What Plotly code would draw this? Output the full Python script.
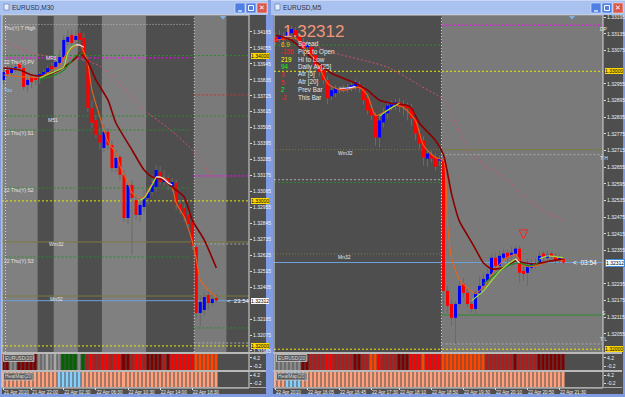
import plotly.graph_objects as go

W, H = 625, 397

# ======================= DATA =======================
# ---- Left window: EURUSD,M30 (bar index 0..53) ----
L_open = [1.33834,1.33903,1.33882,1.33916,1.33951,1.33916,1.33800,1.33855,1.33848,1.33848,
          1.33868,1.33889,1.33930,1.33923,1.33951,1.33992,1.34096,1.34144,1.34110,1.34158,
          1.34124,1.33972,1.33641,1.33558,1.33455,1.33365,1.33476,1.33386,1.33227,1.33303,
          1.33179,1.32882,1.33110,1.33006,1.32903,1.32958,1.33020,1.33062,1.33096,1.33199,
          1.33130,1.33158,1.33096,1.33124,1.32979,1.32951,1.32903,1.32855,1.32682,1.32227,
          1.32248,1.32351,1.32296,1.32331]
L_high = [1.33916,1.33930,1.33937,1.33944,1.33972,1.33930,1.33848,1.33875,1.33875,1.33889,
          1.33903,1.33937,1.33958,1.33985,1.34041,1.34144,1.34179,1.34179,1.34179,1.34193,
          1.34158,1.33999,1.33696,1.33593,1.33503,1.33524,1.33503,1.33420,1.33351,1.33317,
          1.33213,1.33130,1.33144,1.33041,1.33020,1.33075,1.33089,1.33179,1.33248,1.33241,
          1.33213,1.33179,1.33158,1.33144,1.33006,1.32979,1.32937,1.32882,1.32696,1.32351,
          1.32372,1.32385,1.32365,1.32358]
L_low = [1.33806,1.33855,1.33868,1.33889,1.33903,1.33765,1.33751,1.33779,1.33800,1.33806,
         1.33841,1.33875,1.33896,1.33910,1.33937,1.33978,1.34075,1.34068,1.34082,1.34082,
         1.33958,1.33613,1.33503,1.33434,1.33351,1.33338,1.33351,1.33199,1.33199,1.33144,
         1.32855,1.32834,1.32627,1.32868,1.32855,1.32924,1.32972,1.33041,1.33062,1.33110,
         1.33103,1.33075,1.33062,1.32937,1.32910,1.32855,1.32813,1.32661,1.32193,1.32131,
         1.32206,1.32248,1.32275,1.32296]
L_close = [1.33889,1.33875,1.33910,1.33923,1.33916,1.33786,1.33834,1.33820,1.33834,1.33875,
           1.33889,1.33916,1.33910,1.33958,1.33992,1.34110,1.34131,1.34089,1.34137,1.34110,
           1.33985,1.33641,1.33537,1.33455,1.33400,1.33476,1.33386,1.33227,1.33296,1.33179,
           1.32882,1.33110,1.33020,1.32903,1.32972,1.33027,1.33062,1.33124,1.33213,1.33130,
           1.33158,1.33117,1.33130,1.32972,1.32937,1.32889,1.32841,1.32689,1.32227,1.32303,
           1.32337,1.32296,1.32324,1.32312]

L_ema_slow_x = [0,4,7,10,14,18,19,21,23,26,28,32,35,37,40,42,45,47,50,53]
L_ema_slow_y = [1.33916,1.33903,1.33868,1.33862,1.33903,1.33985,1.34020,1.33958,1.33834,1.33696,
                1.33537,1.33351,1.33213,1.33165,1.33144,1.33096,1.33027,1.32868,1.32730,1.32537]
L_ema_fast_x = [0,5,9,14,16,19,20,21,22,24,26,28,29,31,32,34,35,38,40,42,43,45,46,47,48,49,51,53]
L_ema_fast_y = [1.33868,1.33855,1.33855,1.33937,1.34030,1.34075,1.34027,1.33951,1.33765,1.33579,
                1.33410,1.33330,1.33240,1.33124,1.33055,1.33020,1.33027,1.33160,1.33158,1.33090,
                1.32985,1.32889,1.32810,1.32720,1.32600,1.32454,1.32385,1.32337]
L_sma_x = [0,7,14,20,24,28,35,41,47,52]
L_sma_y = [1.34096,1.34020,1.33985,1.33972,1.33930,1.33834,1.33627,1.33503,1.33351,1.33165]
L_sig_lime_x = [9,13,15,16,17,18,None,34,35,36,37,38]
L_sig_lime_y = [1.33848,1.33895,1.33923,1.34020,1.34061,1.34075,None,1.33005,1.33020,1.33060,1.33110,1.33165]
L_sig_white_x = [18,19,20,None,38,39,40,41,42]
L_sig_white_y = [1.34075,1.34075,1.34060,None,1.33165,1.33165,1.33150,1.33124,1.33110]
L_sig_dark_x = [9,13,15,18,20]
L_sig_dark_y = [1.33834,1.33870,1.33900,1.34000,1.34020]

L_levels = [1.34217,1.34003,1.33986,1.33731,1.33586,1.33489,1.33172,1.33089,1.33000,
            1.32717,1.32703,1.32613,1.32344,1.32312,1.32124,1.32020,1.32000]
L_level_kind = ["grey_dot","green_dash","magenta_dash","red_dash","green_dash","green_dash",
                "magenta_dash","green_dash","yellow_dash","olive","grey_dash","green_dash",
                "olive","bid","green_dash","grey_dash","yellow_dash"]
L_level_span = ["pre","full","pre","post","full","pre","post","pre","full",
                "full","post","pre","full","full","post","post","full"]
L_level_text = ["Thu(Y) T High","MR1","22 Thu(Y) PV","Tou","M51","22 Thu(Y) S1","22 Thu(Y) S2",
                "Wm32","22 Thu(Y) S3","Mn32"]
L_level_text_at = [(-0.3,1.34193),(10,1.33985),(-0.3,1.33958),(-0.3,1.33765),(10.5,1.33558),
                   (-0.3,1.33469),(-0.3,1.33075),(10.8,1.32703),(-0.3,1.32586),(11,1.32324)]

L_ticks = [1.34165,1.34055,1.33945,1.33835,1.33725,1.33615,1.33505,1.33395,1.33285,1.33175,
           1.33065,1.32955,1.32845,1.32735,1.32625,1.32515,1.32405,1.32185,1.32075,1.31965]
L_round_marks = [1.34000,1.33000,1.32000]
L_date_idx = [0,7,15,23,31,39,47]
L_date_txt = ["21 Apr 2010","21 Apr 22:00","22 Apr 02:30","22 Apr 06:30",
              "22 Apr 10:30","22 Apr 14:00","22 Apr 18:30"]
L_panel1 = [0,0,1,1,0,0,0,0,0, 1,1,6,1,6,1, 2,2,2,2, 1, 2, 3,4,3,3,
            4,4,3,4,4,0,0,3,4,4,3,0, 0,0,0,3,0,4, 4,4,4,4,4, 5,5,5,5,5,5]
L_panel2 = [7]*14 + [8]*6 + [7]*34

# ---- Right window: EURUSD,M5 (bar index 0..72) ----
R_open = [1.33123,1.33112,1.33126,1.33123,1.33137,1.33148,1.33126,1.33105,1.33087,1.33087,
          1.33058,1.33026,1.33004,1.32968,1.32910,1.32921,1.32935,1.32939,1.32935,1.32939,
          1.32946,1.32953,1.32939,1.32903,1.32867,1.32841,1.32762,1.32816,1.32849,1.32870,
          1.32874,1.32888,1.32881,1.32877,1.32867,1.32834,1.32776,1.32751,1.32686,1.32700,
          1.32690,1.32679,1.32679,1.32210,1.32163,1.32113,1.32163,1.32235,1.32203,1.32163,
          1.32145,1.32203,1.32228,1.32246,1.32271,1.32329,1.32300,1.32329,1.32347,1.32336,
          1.32344,1.32362,1.32282,1.32275,1.32293,1.32311,1.32311,1.32344,1.32329,1.32344,
          1.32333,1.32318,1.32325]
R_high = [1.33137,1.33148,1.33141,1.33155,1.33163,1.33159,1.33137,1.33119,1.33112,1.33097,
          1.33069,1.33040,1.33018,1.32982,1.32946,1.32950,1.32946,1.32950,1.32953,1.32961,
          1.32971,1.32964,1.32950,1.32917,1.32881,1.32852,1.32838,1.32867,1.32888,1.32896,
          1.32899,1.32903,1.32896,1.32888,1.32881,1.32849,1.32794,1.32766,1.32715,1.32715,
          1.32704,1.32697,1.32690,1.32228,1.32181,1.32174,1.32246,1.32257,1.32217,1.32181,
          1.32210,1.32261,1.32275,1.32289,1.32344,1.32347,1.32354,1.32362,1.32358,1.32369,
          1.32372,1.32369,1.32311,1.32325,1.32325,1.32325,1.32354,1.32354,1.32354,1.32351,
          1.32344,1.32340,1.32333]
R_low = [1.33094,1.33105,1.33101,1.33112,1.33130,1.33112,1.33094,1.33069,1.33076,1.33040,
         1.33004,1.32982,1.32953,1.32881,1.32896,1.32906,1.32921,1.32924,1.32924,1.32928,
         1.32932,1.32924,1.32881,1.32845,1.32823,1.32733,1.32726,1.32798,1.32831,1.32859,
         1.32859,1.32852,1.32841,1.32823,1.32805,1.32751,1.32722,1.32661,1.32657,1.32672,
         1.32643,1.32661,1.32131,1.32131,1.32084,1.32019,1.32152,1.32188,1.32152,1.32131,
         1.32127,1.32188,1.32210,1.32224,1.32257,1.32289,1.32289,1.32318,1.32311,1.32325,
         1.32333,1.32239,1.32246,1.32228,1.32282,1.32289,1.32300,1.32318,1.32318,1.32325,
         1.32307,1.32311,1.32307]
R_close = [1.33105,1.33130,1.33112,1.33141,1.33152,1.33126,1.33105,1.33082,1.33097,1.33058,
           1.33022,1.32997,1.32968,1.32903,1.32932,1.32939,1.32932,1.32932,1.32942,1.32950,
           1.32961,1.32939,1.32896,1.32859,1.32841,1.32762,1.32823,1.32849,1.32877,1.32881,
           1.32888,1.32874,1.32874,1.32867,1.32831,1.32776,1.32740,1.32690,1.32704,1.32686,
           1.32657,1.32686,1.32210,1.32156,1.32113,1.32163,1.32228,1.32203,1.32163,1.32145,
           1.32203,1.32228,1.32253,1.32271,1.32329,1.32300,1.32336,1.32344,1.32329,1.32347,
           1.32362,1.32275,1.32271,1.32300,1.32307,1.32300,1.32336,1.32333,1.32340,1.32333,
           1.32318,1.32329,1.32312]

R_ema_slow_x = [0,4,9,14,20,23,26,29,33,34,36,40,42,44,46,48,50,52,54,57,60,62,65,69,72]
R_ema_slow_y = [1.33130,1.33112,1.33048,1.32993,1.32957,1.32932,1.32896,1.32885,1.32877,1.32867,
                1.32813,1.32751,1.32700,1.32560,1.32460,1.32410,1.32360,1.32310,1.32289,1.32293,
                1.32318,1.32311,1.32307,1.32318,1.32325]
R_ema_fast_x = [0,5,7,10,13,15,17,21,23,25,28,30,32,35,37,40,42,43,44,46,48,50,53,55,58,60,62,65,69,72]
R_ema_fast_y = [1.33112,1.33119,1.33087,1.33040,1.32957,1.32939,1.32932,1.32942,1.32914,1.32841,
                1.32859,1.32877,1.32870,1.32823,1.32733,1.32690,1.32679,1.32450,1.32330,1.32250,
                1.32220,1.32200,1.32240,1.32290,1.32330,1.32340,1.32300,1.32300,1.32320,1.32318]
R_sma_x = [7,15,28,36,42,49,58,66,72]
R_sma_y = [1.33105,1.33065,1.33015,1.32950,1.32896,1.32704,1.32607,1.32506,1.32463]
R_sig_lime_x = [26,28,31,None,49,52,54,56,58,60,None,66,68,70,72]
R_sig_lime_y = [1.32838,1.32860,1.32885,None,1.32174,1.32210,1.32246,1.32280,1.32305,1.32325,
                None,1.32325,1.32336,1.32333,1.32329]
R_sig_white_x = [16,18,20,None,60,61]
R_sig_white_y = [1.32939,1.32940,1.32945,None,1.32325,1.32311]
R_sig_dark_x = [52,55,58,61,63,65,66]
R_sig_dark_y = [1.32235,1.32270,1.32300,1.32311,1.32300,1.32305,1.32320]
R_signal_x = [62]
R_signal_y = [1.32397]

R_levels = [1.33166,1.33094,1.33000,1.32718,1.32718,1.32700,1.32610,1.32600,1.32343,1.32312,
            1.32123,1.32019,1.32000]
R_level_kind = ["magenta_dash","green_dash","yellow_dash","olive","olive_dot","grey_dash",
                "grey_dash","green_dash","olive_dot","bid","green","grey_dash","yellow_dash"]
R_level_span = ["post","pre","full","post","pre","post","pre","pre","full","full","post","post","full"]
R_level_text = ["DP","Wm32","T H","Mn32","S","T L"]
R_level_text_at = [(80.6,1.33153),(15,1.32705),(80.6,1.32688),(15.2,1.32333),(81.0,1.32132),(80.6,1.32037)]

R_ticks = [1.33195,1.33135,1.33075,1.32955,1.32895,1.32835,1.32775,1.32715,1.32655,
           1.32595,1.32535,1.32475,1.32415,1.32355,1.32235,1.32175,1.32115,1.32055]
R_round_marks = [1.33000,1.32000]
R_date_idx = [0,8,16,24,31,39,47,55,63,71]
R_date_txt = ["22 Apr 2010","22 Apr 16:05","22 Apr 16:45","22 Apr 17:30","22 Apr 18:10",
              "22 Apr 18:50","22 Apr 19:30","22 Apr 20:10","22 Apr 20:50","22 Apr 21:30"]
R_panel1 = [1]*7 + [0]*2 + [3]*4 + [4]*2 + [3]*5 + [0]*2 + [3]*2 + [5]*2 + [4] + [3]*4 + \
           [0]*3 + [4]*2 + [4,5,4,4,4,4] + [5]*11 + [3]*7 + [0] + [3]*5 + [0]*7
R_panel2 = [7]*3 + [8]*4 + [7]*66

BID = 1.32312
INFO_VAL = ["6.9","-156","219","94","3","5","2","-2"]
INFO_LBL = ["Spread","Pips to Open","Hi to Low","Daily Av[25]","Atr [5]","Atr [20]","Prev Bar","This Bar"]

# ======================= STYLE =======================
FONT = "Liberation Sans, Arial, sans-serif"
BULL, BEAR, WICK = "#0000ff", "#ff0000", "#6a6a6a"
WIN_BG, LIGHT, LIGHT2 = "#4e4e4e", "#808080", "#7a7a7a"
PALETTE = ["#7f0000","#8a8a8a","#006400","#b01c1c","#ff0000","#ff4500","#a8a8a8","#ffa07a","#87cefa"]
LSTYLE = {
    "grey_dot": ("#b8b8b8", "1px,2px", 1), "green_dash": ("#2e8b2e", "2px,2px", 1),
    "magenta_dash": ("#ff00ff", "2px,2px", 1), "red_dash": ("#c83232", "2px,2px", 1),
    "yellow_dash": ("#e8e800", "2px,2px", 1), "olive": ("#7c7a40", "solid", 1),
    "olive_dot": ("#7c7a40", "1px,2px", 1), "grey_dash": ("#a8a8a8", "2px,2px", 1),
    "bid": ("#6fa0d8", "solid", 1), "green": ("#2e8b2e", "solid", 1),
}
INFO_COL = ["#ffc000","#ff2020","#ffff00","#00ff00","#ff2020","#ff2020","#00ff00","#ff2020"]

# pixel geometry
LX = (2, 249); RX = (274, 603)
MAIN_Y = (16, 352); P1_Y = (354, 370); P2_Y = (372, 387)
L_RANGE = [-0.375, 61.125]; R_RANGE = [-0.375, 81.875]
L_YR = [1.31958, 1.34275]; R_YR = [1.31990, 1.33199]

def fx(p): return p / W
def fy(p): return 1 - p / H
def dom_x(a): return [fx(a[0]), fx(a[1])]
def dom_y(a): return [fy(a[1]), fy(a[0])]

fig = go.Figure()
shapes, annos = [], []

def rect(x0, y0, x1, y1, fill, line=None, lw=0, layer="below"):
    shapes.append(dict(type="rect", xref="paper", yref="paper", x0=fx(x0), x1=fx(x1), y0=fy(y1), y1=fy(y0),
                       fillcolor=fill, line=dict(color=line or fill, width=lw), layer=layer))

def hline(x0, x1, y, col, w=1, layer="below"):
    shapes.append(dict(type="line", xref="paper", yref="paper", x0=fx(x0), x1=fx(x1), y0=fy(y), y1=fy(y),
                       line=dict(color=col, width=w), layer=layer))

def text(x, y, s, col="#f0f0f0", size=6, anchor="left", bg=None, border=None, xref="paper", yref="paper"):
    annos.append(dict(x=x if xref != "paper" else fx(x), y=y if yref != "paper" else fy(y), xref=xref, yref=yref,
                      text=s, showarrow=False, xanchor=anchor, yanchor="middle",
                      font=dict(color=col, size=size, family=FONT), bgcolor=bg, bordercolor=border,
                      borderwidth=1 if border else 0, borderpad=0))

# ---- window chrome ----
for (x0, x1, title, bx) in [(0, 268, "EURUSD,M30", 235), (271, 625, "EURUSD,M5", 591)]:
    rect(x0 + 2, 15, x1 - 2, 394, WIN_BG)
    rect(x0, 0, x1, 15, "#aac2ef")
    hline(x0, x1, 0.5, "#c9d8f7")
    rect(x0 + 4, 4, x0 + 9, 10, "#e8eefc", "#5070b0", 0.6)
    text(x0 + 12, 7.5, title, "#27324f", 6.5)
    rect(bx, 3, bx + 10, 13, "#4f7fe3", "#dfe8fb", 0.6)
    hline(bx + 3, bx + 7, 11, "#ffffff", 1.2)
    rect(bx + 11, 3, bx + 21, 13, "#4f7fe3", "#dfe8fb", 0.6)
    rect(bx + 13.5, 5.5, bx + 18.5, 10.5, "rgba(0,0,0,0)", "#ffffff", 1)
    rect(bx + 22, 3, bx + 32, 13, "#d9574b", "#f6dcd8", 0.6)
    text(bx + 27, 8, "✕", "#ffffff", 7, "center")

# chart frames and panel separators
for (a, b, wr) in [(LX[0], LX[1], 266), (RX[0], RX[1], 622)]:
    rect(a, 15, b, 388, "rgba(0,0,0,0)", "#d6d6d6", 1, layer="above")
    rect(a - 1, 352, wr, 354, "#b9b9b9", layer="above")
    rect(a - 1, 370, wr, 372, "#b9b9b9", layer="above")
    hline(a - 1, wr, 387.5, "#a8a8a8", 1, layer="above")

# session shading
for (s, e, c) in [(-0.375, 8.5, LIGHT), (12.5, 18.5, LIGHT), (24.5, 35.5, LIGHT), (47.5, 55.5, LIGHT2)]:
    shapes.append(dict(type="rect", xref="x", yref="y domain", x0=s, x1=e, y0=0, y1=1,
                       fillcolor=c, line=dict(width=0), layer="below"))
shapes.append(dict(type="rect", xref="x4", yref="y4 domain", x0=41.5, x1=R_RANGE[1], y0=0, y1=1,
                   fillcolor=LIGHT2, line=dict(width=0), layer="below"))
for (xr, xv) in [("x", 0.5), ("x", 47.5), ("x4", 41.5)]:
    yr = "y domain" if xr == "x" else "y4 domain"
    shapes.append(dict(type="line", xref=xr, yref=yr, x0=xv, x1=xv, y0=0, y1=1,
                       line=dict(color="#d0d0d0", width=1, dash="1px,2px"), layer="below"))

# level lines
def add_levels(levels, kinds, spans, xr, yr, span_map):
    for p, k, s in zip(levels, kinds, spans):
        col, dash, w = LSTYLE[k]
        x0, x1 = span_map[s]
        shapes.append(dict(type="line", xref=xr, yref=yr, x0=x0, x1=x1, y0=p, y1=p,
                           line=dict(color=col, width=w, dash=dash), layer="below"))

add_levels(L_levels, L_level_kind, L_level_span, "x", "y",
           {"full": L_RANGE, "pre": (0.5, 46.5), "post": (47.5, L_RANGE[1])})
add_levels(R_levels, R_level_kind, R_level_span, "x4", "y4",
           {"full": R_RANGE, "pre": (R_RANGE[0], 41.5), "post": (41.5, R_RANGE[1])})

for s, (xi, p) in zip(L_level_text, L_level_text_at):
    col = "#8fd3ff" if s == "Tou" else "#e6e6e6"
    annos.append(dict(x=xi, y=p, xref="x", yref="y", text=s, showarrow=False, xanchor="left",
                      yanchor="middle", font=dict(color=col, size=5, family=FONT)))
for s, (xi, p) in zip(R_level_text, R_level_text_at):
    annos.append(dict(x=xi, y=p, xref="x4", yref="y4", text=s, showarrow=False, xanchor="left",
                      yanchor="middle", font=dict(color="#e6e6e6", size=5, family=FONT)))

# ---- candles ----
def add_candles(o, h, l, c, xa, ya):
    wx, wy = [], []
    for i in range(len(o)):
        wx += [i, i, None]; wy += [l[i], h[i], None]
    fig.add_trace(go.Scatter(x=wx, y=wy, mode="lines", line=dict(color=WICK, width=1),
                             xaxis=xa, yaxis=ya, hoverinfo="skip", showlegend=False))
    for bull, col in ((True, BULL), (False, BEAR)):
        bx, by = [], []
        for i in range(len(o)):
            if (c[i] > o[i]) == bull:
                bx += [i, i, None]; by += [o[i], c[i], None]
        fig.add_trace(go.Scatter(x=bx, y=by, mode="lines", line=dict(color=col, width=3),
                                 xaxis=xa, yaxis=ya, hoverinfo="skip", showlegend=False))

def add_line(x, y, xa, ya, col, w=1.4, dash="solid"):
    fig.add_trace(go.Scatter(x=x, y=y, mode="lines", line=dict(color=col, width=w, dash=dash, shape="spline", smoothing=0.6),
                             xaxis=xa, yaxis=ya, hoverinfo="skip", showlegend=False, connectgaps=False))

add_line(L_sma_x, L_sma_y, "x", "y", "#d2506e", 1, "2px,2px")
add_line(R_sma_x, R_sma_y, "x4", "y4", "#d2506e", 1, "2px,2px")
add_candles(L_open, L_high, L_low, L_close, "x", "y")
add_candles(R_open, R_high, R_low, R_close, "x4", "y4")
for xa, ya, sx, sy, fxs, fys, dx_, dy_, lx, ly, wx_, wy_ in [
        ("x", "y", L_ema_slow_x, L_ema_slow_y, L_ema_fast_x, L_ema_fast_y, L_sig_dark_x, L_sig_dark_y,
         L_sig_lime_x, L_sig_lime_y, L_sig_white_x, L_sig_white_y),
        ("x4", "y4", R_ema_slow_x, R_ema_slow_y, R_ema_fast_x, R_ema_fast_y, R_sig_dark_x, R_sig_dark_y,
         R_sig_lime_x, R_sig_lime_y, R_sig_white_x, R_sig_white_y)]:
    add_line(fxs, fys, xa, ya, "#e8641e", 1.1)
    add_line(sx, sy, xa, ya, "#8b0000", 1.6)
    add_line(dx_, dy_, xa, ya, "#1f8a1f", 1.2)
    add_line(lx, ly, xa, ya, "#9be03c", 1.2)
    add_line(wx_, wy_, xa, ya, "#f4f4f4", 1.2)

fig.add_trace(go.Scatter(x=R_signal_x, y=R_signal_y, mode="markers", xaxis="x4", yaxis="y4",
                         marker=dict(symbol="arrow-down-open", size=9, color="#ff2020", line=dict(color="#ff2020", width=1)),
                         hoverinfo="skip", showlegend=False))

# ---- indicator panels ----
n_pal = len(PALETTE)
cscale = [[k / (n_pal - 1), c] for k, c in enumerate(PALETTE)]
for codes, xa, ya in [(L_panel1, "x2", "y2"), (L_panel2, "x3", "y3"), (R_panel1, "x5", "y5"), (R_panel2, "x6", "y6")]:
    fig.add_trace(go.Heatmap(z=[codes], x=list(range(len(codes))), y=[-2.2, 6.2], xaxis=xa, yaxis=ya,
                             colorscale=cscale, zmin=0, zmax=n_pal - 1, showscale=False, xgap=1,
                             hoverinfo="skip"))

for (x0, nm, y0) in [(3, "EURUSD(20)", 358), (3, "HeatMap(20)", 376.5), (276, "EURUSD(20)", 358), (276, "HeatMap(20)", 376.5)]:
    rect(x0 + 0.5, y0 - 3.5, x0 + 31, y0 + 3.5, "#5a5a5a", "#c8c8c8", 0.8, layer="above")
    text(x0 + 2, y0, nm, "#dcdcdc", 4.8)

# ---- price scale highlights ----
for p in L_round_marks:
    text(251, 0, f"{p:.5f}", "#000000", 5, bg="#ffd800", xref="paper", yref="y")
    annos[-1]["y"] = p
for p in R_round_marks:
    text(605, 0, f"{p:.5f}", "#000000", 5, bg="#ffd800", xref="paper", yref="y4")
    annos[-1]["y"] = p
text(251, 0, f"{BID:.5f}", "#000000", 5, bg="#ffffff", xref="paper", yref="y"); annos[-1]["y"] = BID
text(605, 0, f"{BID:.5f}", "#000000", 5, bg="#ffffff", border="#3d8fe0", xref="paper", yref="y4"); annos[-1]["y"] = BID
text(55.6, BID, "<  23:54", "#ffffff", 6, xref="x", yref="y")
text(74.3, BID, "<  03:54", "#ffffff", 6.5, xref="x4", yref="y4")

# ---- right-window info block ----
text(283, 32, f"{BID:.5f}", "#f0967a", 17)
for k, (v, lb, c) in enumerate(zip(INFO_VAL, INFO_LBL, INFO_COL)):
    yy = 44 + k * 7.6
    text(281, yy, v, c, 6.3)
    text(298, yy, lb, "#e4e4e4", 6.3)

# chart-shift markers
for x in (223, 572):
    shapes.append(dict(type="path", xref="paper", yref="paper",
                       path=f"M {fx(x-3)} {fy(16)} L {fx(x+3)} {fy(16)} L {fx(x)} {fy(19.5)} Z",
                       fillcolor="#7fb2e8", line=dict(width=0), layer="above"))

# ---- axes ----
tick_font = dict(color="#f2f2f2", size=5, family=FONT)
date_font = dict(color="#f2f2f2", size=4.6, family=FONT)
def yaxis(dom, rng, anchor, tv, tt=None):
    return dict(domain=dom_y(dom), range=rng, anchor=anchor, side="right", tickvals=tv,
                ticktext=tt if tt else [f"{v:.5f}" for v in tv], ticks="outside", ticklen=2,
                tickcolor="#dcdcdc", tickfont=tick_font, showgrid=False, zeroline=False,
                showline=False, fixedrange=True, automargin=False, tickangle=0)
def xaxis(dom, rng, anchor, tv=None, tt=None):
    d = dict(domain=dom_x(dom), range=rng, anchor=anchor, showgrid=False, zeroline=False,
             showline=False, fixedrange=True, automargin=False, tickangle=0)
    if tv is None:
        d.update(showticklabels=False, ticks="")
    else:
        d.update(tickvals=tv, ticktext=tt, ticks="outside", ticklen=2, tickcolor="#dcdcdc",
                 tickfont=date_font, ticklabelposition="outside right")
    return d

panel_tv, panel_tt = [4.2, -0.2], ["4.2", "-0.2"]
fig.update_layout(
    width=W, height=H, margin=dict(l=0, r=0, t=0, b=0, autoexpand=False), autosize=False,
    paper_bgcolor="#7f9be2", plot_bgcolor="rgba(0,0,0,0)", showlegend=False,
    font=dict(family=FONT, color="#f2f2f2"),
    xaxis=xaxis(LX, L_RANGE, "y"), yaxis=yaxis(MAIN_Y, L_YR, "x", L_ticks),
    xaxis2=xaxis(LX, L_RANGE, "y2"), yaxis2=yaxis(P1_Y, [-2.2, 6.2], "x2", panel_tv, panel_tt),
    xaxis3=xaxis(LX, L_RANGE, "y3", L_date_idx, L_date_txt), yaxis3=yaxis(P2_Y, [-2.2, 6.2], "x3", panel_tv, panel_tt),
    xaxis4=xaxis(RX, R_RANGE, "y4"), yaxis4=yaxis(MAIN_Y, R_YR, "x4", R_ticks),
    xaxis5=xaxis(RX, R_RANGE, "y5"), yaxis5=yaxis(P1_Y, [-2.2, 6.2], "x5", panel_tv, panel_tt),
    xaxis6=xaxis(RX, R_RANGE, "y6", R_date_idx, R_date_txt), yaxis6=yaxis(P2_Y, [-2.2, 6.2], "x6", panel_tv, panel_tt),
    shapes=shapes, annotations=annos,
)

fig.write_html("out.html", config={"displayModeBar": False, "staticPlot": True})
